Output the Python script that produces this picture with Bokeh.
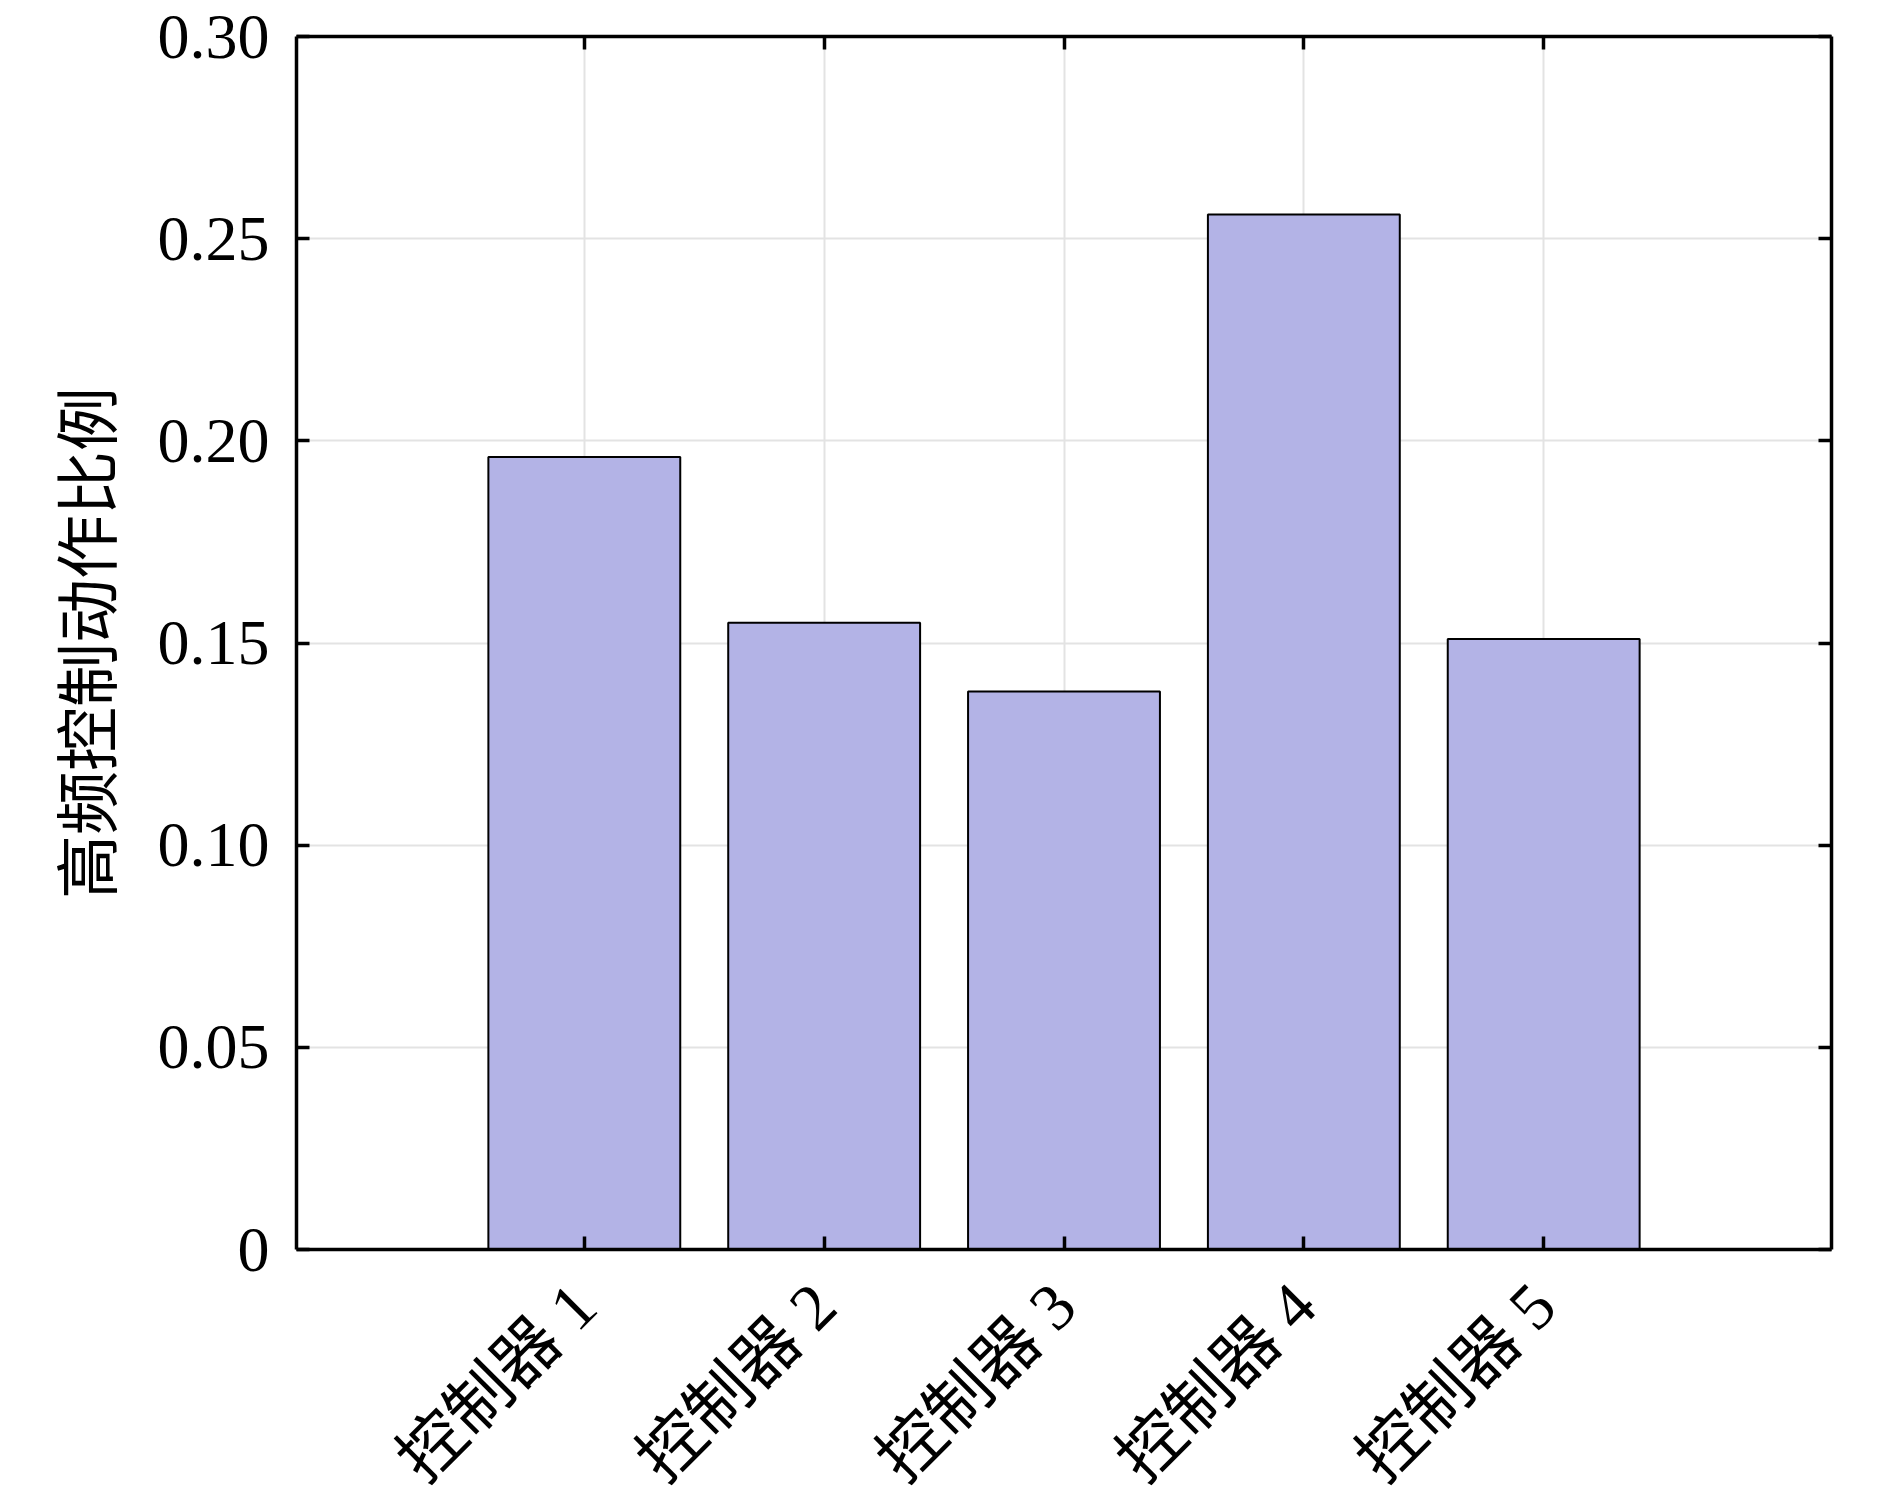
import math
from bokeh.plotting import figure
from bokeh.models import Range1d, FixedTicker, LinearAxis, CustomJSTickFormatter, ColumnDataSource
from bokeh.embed import file_html
from bokeh.resources import INLINE

# ---- data ----
categories = ["控制器 1", "控制器 2", "控制器 3", "控制器 4", "控制器 5"]
values = [0.196, 0.155, 0.138, 0.256, 0.151]
y_ticks = [0, 0.05, 0.10, 0.15, 0.20, 0.25, 0.30]
y_tick_labels = ["0", "0.05", "0.10", "0.15", "0.20", "0.25", "0.30"]
y_label = "高频控制动作比例"

positions = [i + 1 for i in range(len(categories))]

FONT = "'Liberation Serif', 'Noto Sans CJK SC', serif"
FS = "64px"
BAR_COLOR = "#b3b3e6"
GRID_COLOR = "#e3e3e3"

src = ColumnDataSource(data=dict(x=positions, top=values, name=categories))

p = figure(
    frame_width=1535, frame_height=1213,
    x_range=Range1d(-0.2, len(categories) + 1.2),
    y_range=Range1d(0, 0.30),
    output_backend="svg", toolbar_location=None,
    min_border_left=296, min_border_top=36,
    min_border_right=30, min_border_bottom=200,
    background_fill_color="white", border_fill_color="white",
)
p.outline_line_color = None

p.vbar(x="x", top="top", width=0.8, source=src,
       fill_color=BAR_COLOR, line_color="black", line_width=2)

# grids
p.xgrid.ticker = FixedTicker(ticks=positions)
p.ygrid.ticker = FixedTicker(ticks=y_ticks)
for g in (p.xgrid, p.ygrid):
    g.grid_line_color = GRID_COLOR
    g.grid_line_width = 2


def style(ax):
    ax.axis_line_color = "black"
    ax.axis_line_width = 3.5
    ax.major_tick_in = 13
    ax.major_tick_out = 0
    ax.major_tick_line_width = 3.5
    ax.major_tick_line_color = "black"
    ax.minor_tick_in = 0
    ax.minor_tick_out = 0
    ax.major_label_text_font = FONT
    ax.major_label_text_font_size = FS
    ax.major_label_text_color = "black"


# bottom axis
xa = p.xaxis[0]
style(xa)
xa.ticker = FixedTicker(ticks=positions)
xa.major_label_overrides = dict(zip(positions, categories))
xa.major_label_orientation = math.pi / 4
xa.major_label_text_font_size = "66px"
xa.major_label_standoff = 45

# left axis
ya = p.yaxis[0]
style(ya)
ya.ticker = FixedTicker(ticks=y_ticks)
ya.major_label_overrides = dict(zip(y_ticks, y_tick_labels))
ya.major_label_standoff = 27
ya.axis_label = y_label
ya.axis_label_text_font = FONT
ya.axis_label_text_font_size = FS
ya.axis_label_text_font_style = "normal"
ya.axis_label_text_color = "black"
ya.axis_label_standoff = 30

# top and right axes (box with inward ticks, no labels)
blank = CustomJSTickFormatter(code="return ''")
top_ax = LinearAxis(ticker=FixedTicker(ticks=positions), formatter=blank)
style(top_ax)
top_ax.major_label_standoff = 0
top_ax.major_label_text_font_size = "1px"
p.add_layout(top_ax, "above")

right_ax = LinearAxis(ticker=FixedTicker(ticks=y_ticks), formatter=blank)
style(right_ax)
right_ax.major_label_standoff = 0
right_ax.major_label_text_font_size = "1px"
p.add_layout(right_ax, "right")

open("out.html", "w").write(file_html(p, INLINE))
